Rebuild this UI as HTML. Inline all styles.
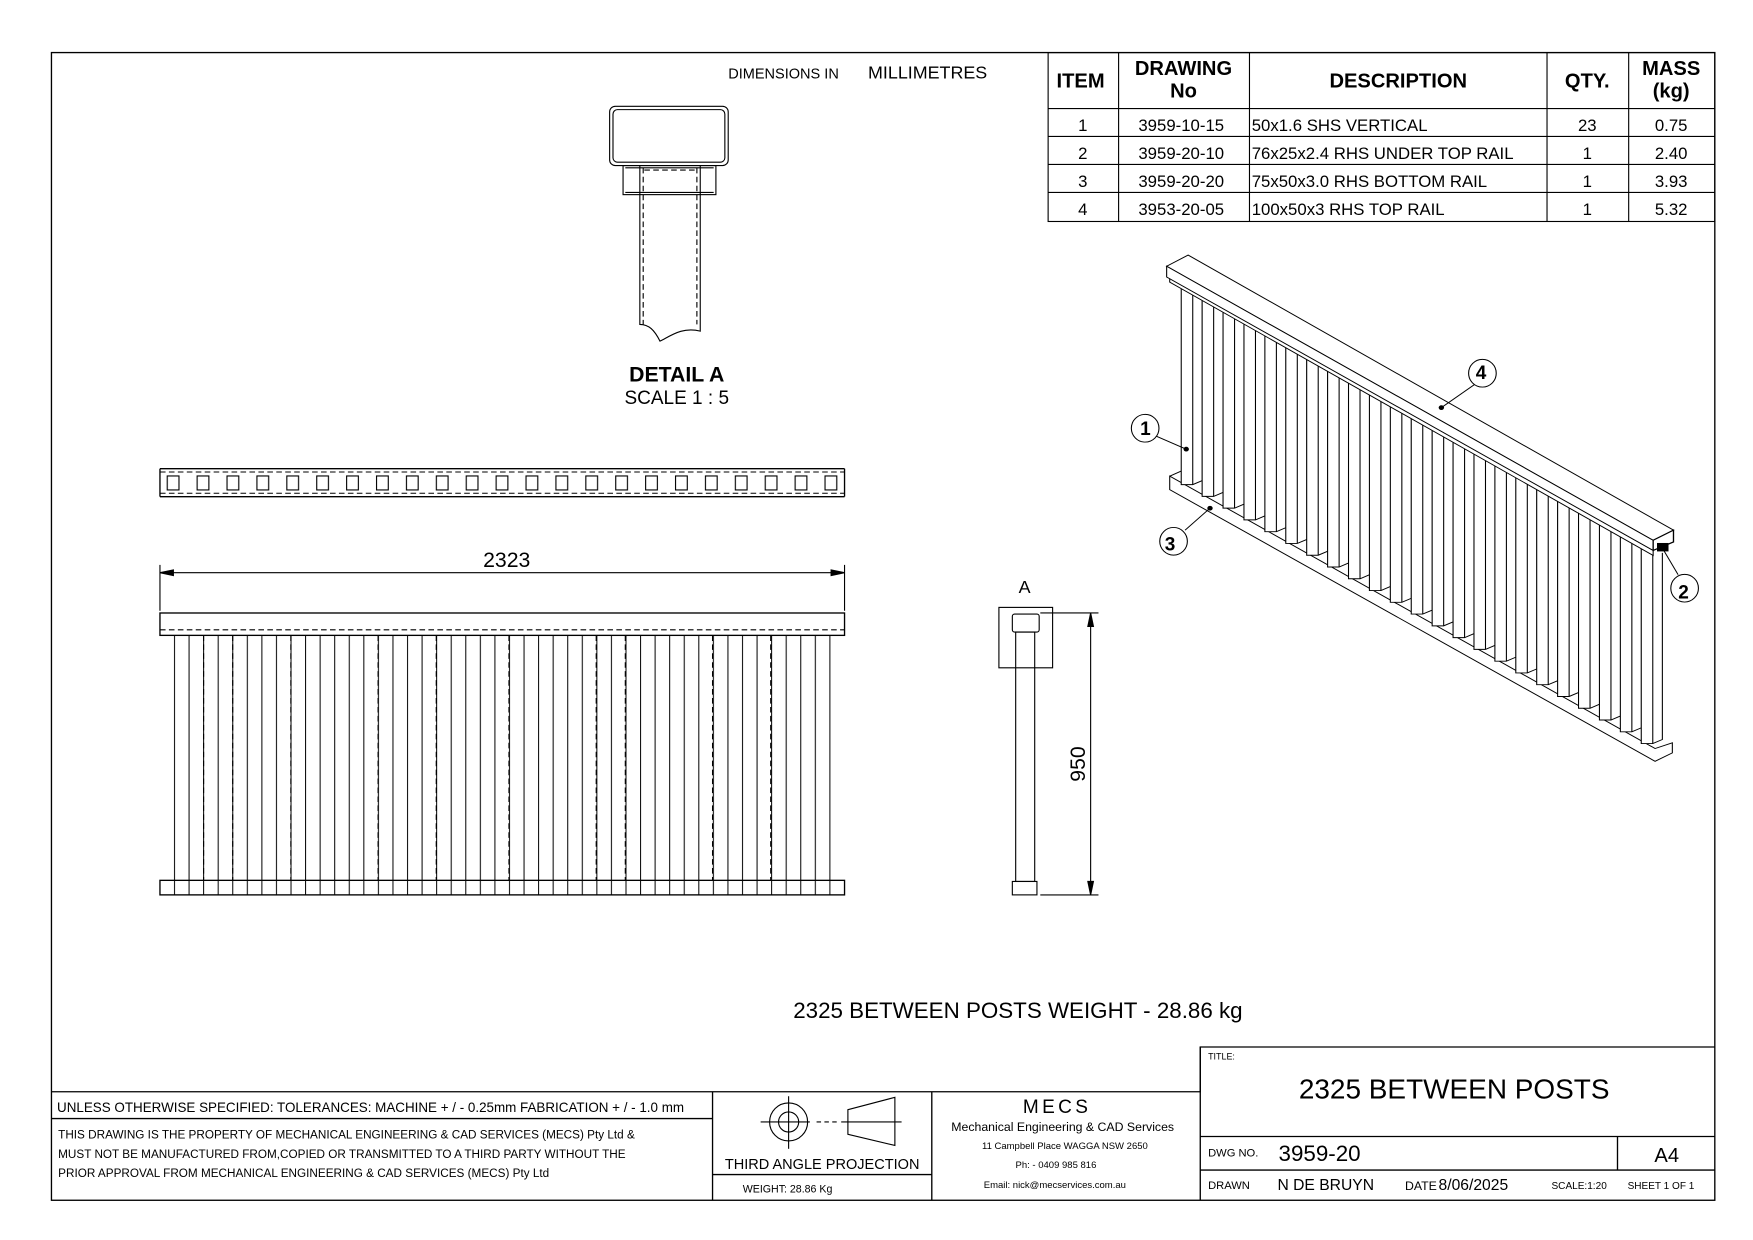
<!DOCTYPE html>
<html><head><meta charset="utf-8"><style>
html,body{margin:0;padding:0;background:#fff;}
svg{display:block;}
text{font-family:"Liberation Sans",sans-serif;fill:#000;}
</style></head><body>
<svg width="1753" height="1240" viewBox="0 0 1753 1240" xmlns="http://www.w3.org/2000/svg">
<defs>
<pattern id="posts" patternUnits="userSpaceOnUse" x="155.5" y="0" width="13.02" height="10">
<line x1="0.5" y1="0" x2="0.5" y2="10" stroke="#000" stroke-width="0.9"/>
</pattern>
<pattern id="sq" patternUnits="userSpaceOnUse" x="149" y="425" width="26.73" height="30">
<rect x="0.5" y="0.5" width="10.5" height="12.5" fill="none" stroke="#000" stroke-width="1"/>
</pattern>
<g id="ipost">
<path d="M130,135 V715 H160 L185,703 V150" fill="#fff" stroke="#000" stroke-width="2.8"/>
<line x1="160" y1="152" x2="160" y2="715" stroke="#000" stroke-width="2.8"/>
</g>
</defs>
<rect width="1753" height="1240" fill="#fff"/>
<g transform="scale(1.1186)">
<rect x="46" y="47" width="1487" height="1026" fill="none" stroke="#000" stroke-width="1.2"/>
<g fill="none" stroke="#000" stroke-width="1">
<rect x="937" y="47" width="596" height="151"/>
<line x1="937" y1="97" x2="1533" y2="97"/>
<line x1="937" y1="122" x2="1533" y2="122"/>
<line x1="937" y1="147" x2="1533" y2="147"/>
<line x1="937" y1="172" x2="1533" y2="172"/>
<line x1="1000" y1="47" x2="1000" y2="198"/>
<line x1="1117" y1="47" x2="1117" y2="198"/>
<line x1="1383" y1="47" x2="1383" y2="198"/>
<line x1="1456" y1="47" x2="1456" y2="198"/>
</g>
<g font-weight="bold" font-size="18" text-anchor="middle">
<text x="966" y="78">ITEM</text>
<text x="1058" y="67">DRAWING</text>
<text x="1058" y="87">No</text>
<text x="1250" y="78">DESCRIPTION</text>
<text x="1419" y="78">QTY.</text>
<text x="1494" y="67">MASS</text>
<text x="1494" y="87">(kg)</text>
</g>
<g font-size="15" text-anchor="middle">
<text x="968" y="117">1</text><text x="1056" y="117">3959-10-15</text><text x="1419" y="117">23</text><text x="1494" y="117">0.75</text>
<text x="968" y="142">2</text><text x="1056" y="142">3959-20-10</text><text x="1419" y="142">1</text><text x="1494" y="142">2.40</text>
<text x="968" y="167">3</text><text x="1056" y="167">3959-20-20</text><text x="1419" y="167">1</text><text x="1494" y="167">3.93</text>
<text x="968" y="192">4</text><text x="1056" y="192">3953-20-05</text><text x="1419" y="192">1</text><text x="1494" y="192">5.32</text>
</g>
<g font-size="15">
<text x="1119" y="117">50x1.6 SHS VERTICAL</text>
<text x="1119" y="142">76x25x2.4 RHS UNDER TOP RAIL</text>
<text x="1119" y="167">75x50x3.0 RHS BOTTOM RAIL</text>
<text x="1119" y="192">100x50x3 RHS TOP RAIL</text>
</g>
<text x="651" y="70" font-size="13">DIMENSIONS IN</text>
<text x="776" y="70" font-size="16">MILLIMETRES</text>
<g fill="none" stroke="#000" stroke-width="1">
<rect x="545" y="95" width="106" height="53" rx="5"/>
<rect x="548" y="98" width="100" height="47" rx="4"/>
<rect x="557" y="148" width="83" height="26"/>
<line x1="559" y1="150" x2="638" y2="150"/>
<line x1="559" y1="172" x2="638" y2="172"/>
<path d="M572,148 V290 C580,290 585,295 590,305 C600,300 610,292 626,296 V148"/>
<path d="M575,150 V290 M623,150 V290 M576,152 H622" stroke-dasharray="5,3"/>
</g>
<text x="605" y="341" font-size="19" font-weight="bold" text-anchor="middle">DETAIL A</text>
<text x="605" y="361" font-size="17" text-anchor="middle">SCALE 1 : 5</text>
<g fill="none" stroke="#000" stroke-width="1.2">
<line x1="143" y1="419" x2="755" y2="419"/>
<line x1="143" y1="444" x2="755" y2="444"/>
<line x1="143" y1="419" x2="143" y2="444"/>
<line x1="755" y1="419" x2="755" y2="444"/>
<path d="M143,422 H755 M143,441 H755" stroke-dasharray="5,3" stroke-width="0.9"/>
</g>
<rect x="148" y="424" width="605" height="16" fill="url(#sq)"/>
<g fill="none" stroke="#000" stroke-width="1">
<line x1="143" y1="505" x2="143" y2="546"/>
<line x1="755" y1="505" x2="755" y2="546"/>
<line x1="150" y1="512" x2="748" y2="512"/>
<path d="M143,512 L155,509.5 L155,514.5 Z M755,512 L743,509.5 L743,514.5 Z" fill="#000"/>
<rect x="143" y="548" width="612" height="20" stroke-width="1.2"/>
<line x1="143" y1="563" x2="755" y2="563" stroke-dasharray="5,3"/>
<rect x="143" y="787" width="612" height="13" stroke-width="1.2"/>
</g>
<rect x="150" y="568" width="600" height="232" fill="url(#posts)"/>
<g stroke="#000" stroke-width="1" stroke-dasharray="5,3">
<line x1="182" y1="568" x2="182" y2="787"/><line x1="208" y1="568" x2="208" y2="787"/>
<line x1="260" y1="568" x2="260" y2="787"/><line x1="338" y1="568" x2="338" y2="787"/>
<line x1="390" y1="568" x2="390" y2="787"/><line x1="455" y1="568" x2="455" y2="787"/>
<line x1="533" y1="568" x2="533" y2="787"/><line x1="559" y1="568" x2="559" y2="787"/>
<line x1="637" y1="568" x2="637" y2="787"/><line x1="689" y1="568" x2="689" y2="787"/>
</g>
<text x="453" y="507" font-size="19" text-anchor="middle">2323</text>
<text x="916" y="530" font-size="16" text-anchor="middle">A</text>
<g fill="none" stroke="#000" stroke-width="1">
<rect x="893" y="543" width="48" height="54"/>
<rect x="905" y="549" width="24" height="16" rx="2"/>
<rect x="908" y="565" width="17" height="223"/>
<rect x="905" y="788" width="22" height="12"/>
<line x1="930" y1="548" x2="982" y2="548"/>
<line x1="930" y1="800" x2="982" y2="800"/>
<line x1="975" y1="553" x2="975" y2="795"/>
<path d="M975,548 L972.5,560 L977.5,560 Z M975,800 L972.5,788 L977.5,788 Z" fill="#000"/>
</g>
<text x="0" y="0" font-size="19" text-anchor="middle" transform="translate(970,683) rotate(-90)">950</text>
<text x="910" y="910" font-size="20" text-anchor="middle">2325 BETWEEN POSTS WEIGHT - 28.86 kg</text>
<g fill="none" stroke="#000" stroke-width="1.2">
<polyline points="46,976 1073,976 1073,936 1533,936"/>
<line x1="46" y1="1000" x2="637" y2="1000"/>
<line x1="637" y1="976" x2="637" y2="1073"/>
<line x1="833" y1="976" x2="833" y2="1073"/>
<line x1="1073" y1="936" x2="1073" y2="1073"/>
<line x1="637" y1="1050" x2="833" y2="1050"/>
<line x1="1073" y1="1016" x2="1533" y2="1016"/>
<line x1="1073" y1="1046" x2="1533" y2="1046"/>
<line x1="1446" y1="1016" x2="1446" y2="1046"/>
</g>
<text x="51" y="994" font-size="12">UNLESS OTHERWISE SPECIFIED: TOLERANCES: MACHINE + / - 0.25mm  FABRICATION + / - 1.0 mm</text>
<g font-size="10.5">
<text x="52" y="1018">THIS DRAWING IS THE PROPERTY OF MECHANICAL ENGINEERING &amp; CAD SERVICES (MECS) Pty Ltd &amp;</text>
<text x="52" y="1035">MUST NOT BE MANUFACTURED FROM,COPIED OR TRANSMITTED TO A THIRD PARTY WITHOUT THE</text>
<text x="52" y="1052">PRIOR APPROVAL FROM MECHANICAL ENGINEERING &amp; CAD SERVICES (MECS) Pty Ltd</text>
</g>
<g fill="none" stroke="#000" stroke-width="1">
<circle cx="705" cy="1003" r="17"/>
<circle cx="705" cy="1003" r="9"/>
<line x1="680" y1="1003" x2="724" y2="1003"/>
<line x1="705" y1="980" x2="705" y2="1027"/>
<line x1="730" y1="1003" x2="748" y2="1003" stroke-dasharray="4,3"/>
<path d="M758,992 L800,981 L800,1024 L758,1014 Z"/>
<line x1="752" y1="1003" x2="806" y2="1003"/>
</g>
<text x="735" y="1045" font-size="13" text-anchor="middle">THIRD ANGLE PROJECTION</text>
<text x="664" y="1066" font-size="9.5">WEIGHT: 28.86 Kg</text>
<text x="945" y="995" font-size="17" text-anchor="middle" letter-spacing="3">MECS</text>
<text x="950" y="1011" font-size="11" text-anchor="middle">Mechanical Engineering &amp; CAD Services</text>
<text x="952" y="1027" font-size="8.5" text-anchor="middle">11 Campbell Place WAGGA NSW 2650</text>
<text x="944" y="1044" font-size="8.5" text-anchor="middle">Ph: - 0409 985 816</text>
<text x="943" y="1062" font-size="8.5" text-anchor="middle">Email: nick@mecservices.com.au</text>
<text x="1080" y="947" font-size="8">TITLE:</text>
<text x="1300" y="982" font-size="25" text-anchor="middle">2325 BETWEEN POSTS</text>
<text x="1080" y="1034" font-size="10">DWG NO.</text>
<text x="1143" y="1038" font-size="20">3959-20</text>
<text x="1490" y="1039" font-size="18" text-anchor="middle">A4</text>
<text x="1080" y="1063" font-size="10">DRAWN</text>
<text x="1142" y="1064" font-size="14">N DE BRUYN</text>
<text x="1256" y="1064" font-size="11">DATE</text>
<text x="1286" y="1064" font-size="14">8/06/2025</text>
<text x="1387" y="1063" font-size="9">SCALE:1:20</text>
<text x="1455" y="1063" font-size="9">SHEET 1 OF 1</text>

<g transform="translate(1011.4,217.5) scale(0.343,0.3017)">
<path d="M100,690 L100,730 L1365,1535 L1410,1510 L1410,1480 L1365,1497 L100,690 Z M100,690 L130,675" fill="#fff" stroke="#000" stroke-width="2.8"/>
<use href="#ipost" transform="translate(0,0)"/>
<use href="#ipost" transform="translate(54.5,34.88)"/>
<use href="#ipost" transform="translate(109,69.76)"/>
<use href="#ipost" transform="translate(163.5,104.64)"/>
<use href="#ipost" transform="translate(218,139.52)"/>
<use href="#ipost" transform="translate(272.5,174.4)"/>
<use href="#ipost" transform="translate(327,209.28)"/>
<use href="#ipost" transform="translate(381.5,244.16)"/>
<use href="#ipost" transform="translate(436,279.04)"/>
<use href="#ipost" transform="translate(490.5,313.92)"/>
<use href="#ipost" transform="translate(545,348.8)"/>
<use href="#ipost" transform="translate(599.5,383.68)"/>
<use href="#ipost" transform="translate(654,418.56)"/>
<use href="#ipost" transform="translate(708.5,453.44)"/>
<use href="#ipost" transform="translate(763,488.32)"/>
<use href="#ipost" transform="translate(817.5,523.2)"/>
<use href="#ipost" transform="translate(872,558.08)"/>
<use href="#ipost" transform="translate(926.5,592.96)"/>
<use href="#ipost" transform="translate(981,627.84)"/>
<use href="#ipost" transform="translate(1035.5,662.72)"/>
<use href="#ipost" transform="translate(1090,697.6)"/>
<use href="#ipost" transform="translate(1144.5,732.48)"/>
<use href="#ipost" transform="translate(1199,767.36)"/>
<path d="M100,100 L100,115 L1360,925 L1360,910 Z" fill="#fff" stroke="#000" stroke-width="2.8"/>
<path d="M92,68 L148,35 L1413,850 L1360,880 Z" fill="#fff" stroke="#000" stroke-width="2.8"/>
<path d="M92,68 L92,100 L1360,910 L1360,880 Z" fill="#fff" stroke="#000" stroke-width="2.8"/>
<path d="M1360,880 L1413,850 L1413,885 L1360,910 Z" fill="#fff" stroke="#000" stroke-width="3.5"/>
<rect x="1370" y="888" width="30" height="25" fill="#000"/>
<g fill="#fff" stroke="#000" stroke-width="2.8">
<line x1="895" y1="418" x2="808" y2="487"/>
<line x1="62" y1="570" x2="143" y2="610"/>
<line x1="140" y1="850" x2="205" y2="785"/>
<line x1="1425" y1="982" x2="1385" y2="905"/>
<ellipse cx="915" cy="385" rx="36" ry="41"/>
<ellipse cx="36" cy="548" rx="36" ry="41"/>
<ellipse cx="110" cy="883" rx="36" ry="41"/>
<ellipse cx="1442" cy="1022" rx="36" ry="41"/>
</g>
<g fill="#000"><circle cx="808" cy="487" r="7"/><circle cx="143" cy="610" r="7"/><circle cx="205" cy="785" r="7"/><circle cx="1385" cy="905" r="7"/></g>
</g>
<g font-size="17" font-weight="bold" text-anchor="middle">
<text x="1324" y="339">4</text><text x="1024" y="389">1</text><text x="1046" y="492">3</text><text x="1505" y="535">2</text>
</g>
</g>
</svg>
</body></html>
